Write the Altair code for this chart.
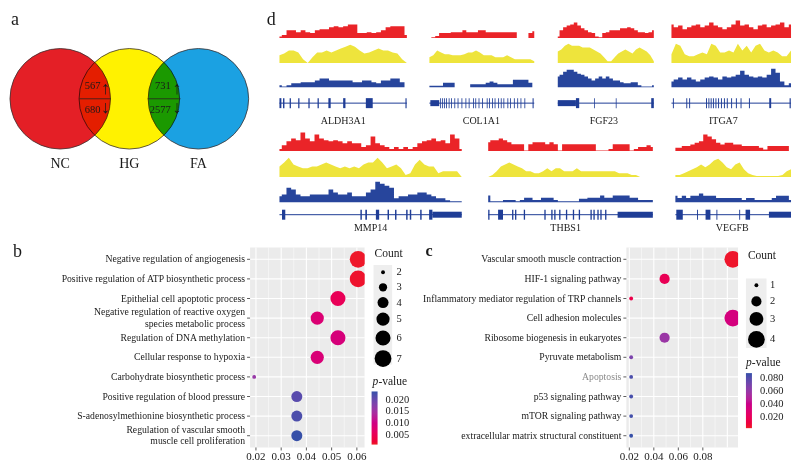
import altair as alt
import pandas as pd

W, H = 784, 453
SX, SY = W / 800.0, H / 469.0


def X(v):
    return round(v * SX, 2)


def Y(v):
    return round(v * SY, 2)


FONT = "Liberation Serif"
INK = "#1a1a1a"
TRACK_COLORS = ["#ea2428", "#eee43c", "#27459c"]
MODEL_COLOR = "#1f3d96"
PANEL_BG = "#ebebeb"
P_COLORS = ["#ee1f25", "#3550a8"]

# ------------------------------------------------------------------ data
venn_sets = ["NC", "HG", "FA"]
venn_colors = ["#e41f26", "#fff200", "#1ba1e2"]
overlap_pairs = ["NC-HG", "HG-FA"]
overlap_up = [567, 731]
overlap_down = [680, 2577]

genes = ["ALDH3A1", "COL1A1", "FGF23", "ITGA7", "MMP14", "THBS1", "VEGFB"]

aldh3a1_nc = [0.8, 1.5, 4, 4, 3, 4, 3, 2.5, 4, 4.5, 4.5, 5.5, 6, 5.5, 6, 7, 7, 2.5, 2.5, 3, 2.5, 3, 4, 5.5, 6, 6, 6, 1.5]
aldh3a1_hg = [4, 5, 6.5, 6.5, 5.5, 2, 0, 3, 5.5, 5.5, 6.5, 5.5, 6.5, 7.5, 8.5, 9.5, 8.5, 6.5, 5, 5.5, 6.5, 7.5, 6.5, 6.5, 5.5, 5, 2, 0]
aldh3a1_fa = [1, 0.4, 1, 2, 2, 2.5, 2.5, 2.5, 3.5, 4.5, 4.5, 3.5, 3.5, 3.5, 3.5, 3.5, 2.5, 2.5, 3.5, 3.5, 2.5, 2, 3.5, 3.5, 4.5, 4.5, 2.5, 0]

col1a1_nc = [0, 0.4, 1, 2.5, 2.5, 2.5, 3, 3, 3, 4, 3, 3, 3, 4, 4, 3, 3, 3, 3, 3, 3, 3, 3, 0, 0, 0, 2.5, 3.5]
col1a1_hg = [3, 4, 6.5, 5.5, 4.5, 4.5, 4, 4, 4, 4.5, 5.5, 5.5, 6.5, 5.5, 4, 4, 4, 3, 3, 3, 4, 3, 2, 2, 2, 2, 2, 1]
col1a1_fa = [0.8, 0.8, 0.8, 0.8, 2.3, 2.3, 2.3, 0, 0, 0, 0, 1.5, 1.5, 1.5, 1.5, 2.3, 3, 2.3, 1.5, 1.5, 1.5, 1.5, 3.8, 3.8, 3.8, 3.8, 2.3, 0]

fgf23_nc = [0.8, 4, 5.5, 6.5, 7, 8, 6.5, 5, 4, 3, 2.5, 0.8, 0.3, 2.5, 3, 4, 4, 4, 5, 5, 5.5, 5, 4, 3, 3, 2.5, 3, 4]
fgf23_hg = [6, 7, 9, 10, 9, 9, 9, 8, 8, 8, 7, 6, 5, 3, 1, 1, 3, 5, 6, 7, 6, 5, 7, 8, 7, 6, 4, 1]
fgf23_fa = [5.5, 6.5, 8, 9, 9, 8, 7, 6.5, 5.5, 4.5, 3.5, 4.5, 5.5, 4.5, 5.5, 4.5, 3.5, 3.5, 2.5, 2, 2, 2.5, 2.5, 1, 0.3, 0.3, 0.3, 1]

itga7_nc = [7, 5.5, 6.5, 4.5, 5.5, 6.5, 7, 5.5, 6.5, 8, 6.5, 5.5, 4.5, 5.5, 7, 9, 6.5, 7, 5.5, 4.5, 6.5, 7, 5.5, 6.5, 7, 8, 5.5, 7]
itga7_hg = [4.5, 10, 9, 4.5, 3.5, 3.5, 4.5, 5.5, 4.5, 10, 9, 5.5, 5.5, 6.5, 5.5, 10, 6.5, 9, 5.5, 9, 10, 6.5, 5.5, 6.5, 5.5, 3.5, 3.5, 6.5]
itga7_fa = [3, 4, 5, 4, 5, 4, 3, 4, 5, 5.5, 5, 4, 5.5, 5, 5.5, 6.5, 8.5, 6.5, 5.5, 5, 5.5, 5, 6.5, 9.5, 7.5, 3, 1, 2]

mmp14_nc = [1, 3, 5, 6.5, 5.5, 9.5, 6.5, 5, 8.5, 6.5, 5.5, 5, 5.5, 5, 4, 5, 4, 4, 2, 3, 7.5, 4, 3, 2, 1, 2, 1, 2, 1, 2, 4, 5, 5.5, 6.5, 5, 5.5, 4, 8.5, 6.5, 1]
mmp14_hg = [5.5, 7.5, 10, 6.5, 5.5, 4.5, 4.5, 5.5, 5.5, 6.5, 7.5, 6.5, 5.5, 4.5, 5.5, 4.5, 5.5, 4.5, 6.5, 7.5, 7.5, 10, 7.5, 4.5, 5.5, 6.5, 4.5, 1, 2, 6.5, 9, 6.5, 5.5, 5.5, 2, 3, 3, 3, 3, 0]
mmp14_fa = [3, 4, 7.5, 6.5, 4, 3, 3, 4, 4, 4, 4, 6.5, 5, 4, 4, 5, 3, 3, 3, 5, 6.5, 10.5, 9.5, 8.5, 7.5, 2, 3, 3, 4, 4, 5, 5, 4, 3, 2, 2, 1, 0.5, 0.5, 0.5]

thbs1_nc = [4.5, 5.5, 5.5, 6.5, 5.5, 4.5, 3.5, 3.5, 3.5, 0.2, 3.5, 4.5, 4.5, 4.5, 3.5, 4.5, 3.5, 0.2, 3.5, 3.5, 3.5, 3.5, 3.5, 3.5, 3.5, 3.5, 0.2, 0.2, 0.2, 1, 3.5, 3.5, 3.5, 3.5, 0.2, 1, 2, 2, 3, 2]
thbs1_hg = [0, 1, 3, 5.5, 6.5, 7.5, 6.5, 5.5, 4.5, 3, 3, 2, 2, 3, 4.5, 3, 4.5, 4.5, 3, 3, 3, 4.5, 3, 3, 3, 3, 3, 3, 3, 3, 3, 2, 2, 2, 1, 1, 0, 0, 0, 0]
thbs1_fa = [3.4, 0.5, 0.5, 0.5, 1.1, 1.1, 1.1, 0.5, 1.1, 2.3, 2.3, 1.1, 1.1, 2.3, 2.3, 2.3, 1.1, 0.5, 0.5, 0.5, 0.5, 0.5, 1.7, 1.7, 2.3, 2.3, 2.3, 3.4, 2.3, 2.3, 3.4, 3.4, 3.4, 3.4, 2.3, 2.3, 1.1, 1.1, 1.1, 1.1]

vegfb_nc = [1.7, 1.7, 2.5, 2.5, 3.4, 4.2, 5, 8.5, 7.5, 6, 4.2, 3.4, 4.2, 4.2, 3.4, 3.4, 2.5, 2.5, 2.5, 2.5, 1.7, 0.8, 2.5, 2.5, 2.5, 2.5, 2.5, 0]
vegfb_hg = [1, 1, 2, 3, 4, 5, 6.5, 5, 6.5, 8.5, 9.5, 7.5, 5, 4, 6.5, 7.5, 4, 2, 1, 0.5, 0.5, 0.5, 0.5, 0.5, 0.5, 1, 3, 4]
vegfb_fa = [3.3, 2.2, 3.3, 2.2, 3.3, 3.3, 4.5, 3.3, 3.3, 3.3, 2.2, 2.2, 2.2, 2.2, 2.2, 2.2, 1.1, 2.2, 2.2, 1.1, 1.1, 1.1, 1.1, 2.2, 3.3, 3.3, 3.3, 1.1]

# exon models: (start %, end %, kind)
aldh3a1_exons = [(0.0, 1.5, "tall"), (2.8, 3.9, "tall"), (8.0, 9.0, "tall"), (14.7, 15.7, "tall"),
                 (22.7, 23.7, "tall"), (29.9, 30.9, "tall"), (38.4, 40.2, "tall"), (50.0, 51.8, "tall"),
                 (67.8, 73.2, "tall"), (98.9, 99.8, "tall")]
col1a1_exons = [(0.9, 9.4, "med"), (10.3, 11.1, "tall"), (12.2, 13.0, "tall"), (14.1, 14.9, "tall"),
                (15.9, 16.7, "tall"), (18.4, 19.2, "tall"), (20.6, 21.4, "tall"), (23.8, 24.6, "tall"),
                (26.9, 27.7, "tall"), (30.6, 31.4, "tall"), (34.4, 35.2, "tall"), (37.5, 38.3, "tall"),
                (41.6, 42.4, "tall"), (43.8, 44.6, "tall"), (46.9, 47.7, "tall"), (50.3, 51.1, "tall"),
                (54.7, 55.5, "tall"), (56.9, 57.7, "tall"), (59.7, 60.5, "tall"), (62.2, 63.0, "tall"),
                (65.6, 66.4, "tall"), (68.1, 68.9, "tall"), (70.6, 71.4, "tall"), (74.4, 75.2, "tall"),
                (76.9, 77.7, "tall"), (80.6, 81.4, "tall"), (83.8, 84.6, "tall"), (86.9, 87.7, "tall"),
                (90.6, 91.4, "tall"), (98.4, 99.4, "tall")]
fgf23_exons = [(0.0, 18.9, "med"), (18.9, 22.3, "tall"), (37.8, 38.6, "tall"), (60.4, 61.2, "tall"),
               (97.3, 100.0, "tall")]
itga7_exons = [(1.2, 2.0, "tall"), (12.4, 13.2, "tall"), (14.8, 15.6, "tall"), (28.9, 29.7, "tall"),
               (30.9, 31.7, "tall"), (32.8, 33.6, "tall"), (34.7, 35.5, "tall"), (36.8, 37.6, "tall"),
               (39.0, 39.8, "tall"), (41.4, 42.2, "tall"), (43.9, 44.7, "tall"), (46.3, 47.1, "tall"),
               (49.9, 50.7, "tall"), (53.9, 54.7, "tall"), (57.8, 58.6, "tall"), (64.8, 65.6, "tall"),
               (81.8, 83.4, "tall"), (98.8, 99.8, "tall")]
mmp14_exons = [(1.4, 3.2, "tall"), (44.4, 45.2, "tall"), (47.1, 48.0, "tall"), (52.9, 54.7, "tall"),
               (59.3, 60.1, "tall"), (63.4, 64.2, "tall"), (69.5, 70.3, "tall"), (71.5, 72.3, "tall"),
               (77.2, 78.0, "tall"), (82.1, 83.9, "tall"), (83.9, 100.0, "med")]
thbs1_exons = [(0.0, 0.8, "tall"), (6.0, 9.0, "tall"), (14.5, 15.3, "tall"), (16.3, 17.1, "tall"),
               (21.6, 22.4, "tall"), (34.1, 34.9, "tall"), (38.3, 39.1, "tall"), (40.1, 40.9, "tall"),
               (43.1, 43.9, "tall"), (47.2, 48.0, "tall"), (51.4, 52.2, "tall"), (55.0, 55.8, "tall"),
               (62.1, 62.9, "tall"), (63.9, 64.7, "tall"), (66.3, 67.1, "tall"), (68.1, 68.9, "tall"),
               (71.0, 71.8, "tall"), (78.6, 100.0, "med")]
vegfb_exons = [(0.8, 6.4, "tall"), (18.7, 19.5, "tall"), (26.1, 30.3, "tall"), (35.5, 36.3, "tall"),
               (55.2, 56.0, "tall"), (60.7, 64.6, "tall"), (80.9, 100.0, "med")]

b_terms = ["Negative regulation of angiogenesis",
           "Positive regulation of ATP biosynthetic process",
           "Epithelial cell apoptotic process",
           "Negative regulation of reactive oxygen|species metabolic process",
           "Regulation of DNA methylation",
           "Cellular response to hypoxia",
           "Carbohydrate biosynthetic process",
           "Positive regulation of blood pressure",
           "S-adenosylmethionine biosynthetic process",
           "Regulation of vascular smooth|muscle cell proliferation"]
b_ratio = [0.0605, 0.0605, 0.0525, 0.0443, 0.0525, 0.0443, 0.0193, 0.0362, 0.0362, 0.0362]
b_count = [7, 7, 6, 5, 6, 5, 2, 4, 4, 4]
b_pval = [0.0012, 0.0014, 0.0052, 0.0082, 0.0090, 0.0085, 0.0160, 0.0210, 0.0220, 0.0234]
b_ticks = [0.02, 0.03, 0.04, 0.05, 0.06]

c_terms = ["Vascular smooth muscle contraction",
           "HIF-1 signaling pathway",
           "Inflammatory mediator regulation of TRP channels",
           "Cell adhesion molecules",
           "Ribosome biogenesis in eukaryotes",
           "Pyruvate metabolism",
           "Apoptosis",
           "p53 signaling pathway",
           "mTOR signaling pathway",
           "extracellular matrix structural constituent"]
c_ratio = [0.1045, 0.0488, 0.0215, 0.1045, 0.0488, 0.0215, 0.0215, 0.0215, 0.0215, 0.0215]
c_count = [4, 2, 1, 4, 2, 1, 1, 1, 1, 1]
c_pval = [0.004, 0.018, 0.014, 0.034, 0.058, 0.068, 0.082, 0.083, 0.084, 0.087]
c_ticks = [0.02, 0.04, 0.06, 0.08]

# ------------------------------------------------------------------ layout
VENN_CX = [53.3, 124.3, 194.3]
VENN_CY = 94
VENN_R = 51.7
VENN_SIZE = 100.5 ** 2

GENE_LAYOUT = {
    "ALDH3A1": dict(x0=277, x1=407, row=0, lx=342),
    "COL1A1": dict(x0=430, x1=537, row=0, lx=483),
    "FGF23": dict(x0=561, x1=659, row=0, lx=608),
    "ITGA7": dict(x0=677, x1=799, row=0, lx=730),
    "MMP14": dict(x0=277, x1=463, row=1, lx=370),
    "THBS1": dict(x0=490, x1=658, row=1, lx=569),
    "VEGFB": dict(x0=681, x1=799, row=1, lx=739),
}
ROWS = {0: dict(base=[31, 57, 82], model=98.5, label=117),
        1: dict(base=[148, 175, 201], model=214, label=228)}
TRACKS = {
    "ALDH3A1": (aldh3a1_nc, aldh3a1_hg, aldh3a1_fa, aldh3a1_exons),
    "COL1A1": (col1a1_nc, col1a1_hg, col1a1_fa, col1a1_exons),
    "FGF23": (fgf23_nc, fgf23_hg, fgf23_fa, fgf23_exons),
    "ITGA7": (itga7_nc, itga7_hg, itga7_fa, itga7_exons),
    "MMP14": (mmp14_nc, mmp14_hg, mmp14_fa, mmp14_exons),
    "THBS1": (thbs1_nc, thbs1_hg, thbs1_fa, thbs1_exons),
    "VEGFB": (vegfb_nc, vegfb_hg, vegfb_fa, vegfb_exons),
}
INTERP = ["step", "linear", "step"]
LABEL_SIZE = 9.7
LINE_H = 11.5


def one_row():
    return pd.DataFrame({"k": [0]})


def txt(s, x, y, size=10, align="center", baseline="middle", weight="normal",
        style="normal", color=INK, font=FONT):
    return alt.Chart(pd.DataFrame({"t": [s]})).mark_text(
        align=align, baseline=baseline, fontSize=size, fontWeight=weight,
        fontStyle=style, font=font, color=color
    ).encode(x=alt.value(X(x)), y=alt.value(Y(y)), text="t:N")


layers = []

# ------------------------------------------------------------------ panel a
venn_df = pd.DataFrame({"set": venn_sets})
venn_x = alt.Scale(type="point", domain=venn_sets,
                   range=[X(VENN_CX[0]), X(VENN_CX[2])], padding=0)
layers.append(
    alt.Chart(venn_df).mark_circle(opacity=1, stroke="#3a3030", strokeWidth=0.8,
                                   blend="multiply").encode(
        x=alt.X("set:N", scale=venn_x, axis=None),
        y=alt.value(Y(VENN_CY)),
        size=alt.value(VENN_SIZE),
        color=alt.Color("set:N", scale=alt.Scale(domain=venn_sets, range=venn_colors), legend=None),
    )
)
layers.append(
    alt.Chart(venn_df).mark_text(font=FONT, fontSize=14, color=INK).encode(
        x=alt.X("set:N", scale=venn_x, axis=None),
        y=alt.value(Y(161)),
        text="set:N",
    )
)
for a, b in [(0, 1), (1, 2)]:
    left = VENN_CX[b] - VENN_R
    right = VENN_CX[a] + VENN_R
    layers.append(
        alt.Chart(pd.DataFrame({"pair": [overlap_pairs[a]]})).mark_rule(
            color="#2a2020", strokeWidth=0.8).encode(
            x=alt.value(X(left)), x2=alt.value(X(right)), y=alt.value(Y(VENN_CY)))
    )
ov_df = pd.DataFrame({"pair": overlap_pairs * 2,
                      "dir": ["up", "up", "down", "down"],
                      "n": overlap_up + overlap_down})
layers.append(
    alt.Chart(ov_df).mark_text(align="right", baseline="middle", font=FONT,
                               fontSize=10.5, color=INK).encode(
        x=alt.X("pair:N", axis=None,
                scale=alt.Scale(type="point", domain=overlap_pairs, range=[X(94.5), X(166)], padding=0)),
        y=alt.Y("dir:N", axis=None,
                scale=alt.Scale(type="point", domain=["up", "down"], range=[Y(81), Y(106)], padding=0)),
        text=alt.Text("n:Q", format="d"),
    )
)
layers.append(
    alt.Chart(ov_df).transform_calculate(
        arrow="datum.dir == 'up' ? '\u2191' : '\u2193'"
    ).mark_text(baseline="middle", font=FONT, fontSize=18, color=INK).encode(
        x=alt.X("pair:N", axis=None,
                scale=alt.Scale(type="point", domain=overlap_pairs, range=[X(99.5), X(172.5)], padding=0)),
        y=alt.Y("dir:N", axis=None,
                scale=alt.Scale(type="point", domain=["up", "down"], range=[Y(84), Y(103.5)], padding=0)),
        text="arrow:N",
    )
)

# ------------------------------------------------------------------ panel d
for g in genes:
    lay = GENE_LAYOUT[g]
    row = ROWS[lay["row"]]
    nc, hg, fa, exons = TRACKS[g]
    for vals, color, base, interp in zip((nc, hg, fa), TRACK_COLORS, row["base"], INTERP):
        n = len(vals)
        df = pd.DataFrame({"bin": list(range(n)), "cov": vals})
        layers.append(
            alt.Chart(df).mark_area(color=color, interpolate=interp, opacity=1).encode(
                x=alt.X("bin:Q", axis=None,
                        scale=alt.Scale(domain=[0, n - 1], range=[X(lay["x0"]), X(lay["x1"])],
                                        nice=False, zero=False)),
                y=alt.Y("cov:Q", axis=None,
                        scale=alt.Scale(domain=[0, 11], range=[Y(base), Y(base - 22)],
                                        nice=False, zero=False)),
            )
        )
    xs = alt.Scale(domain=[0, 100], range=[X(lay["x0"]), X(lay["x1"])], nice=False, zero=False)
    yc = Y(row["model"])
    ex_df = pd.DataFrame(exons, columns=["start", "end", "kind"])
    parts = [
        alt.Chart(pd.DataFrame({"s": [0], "e": [100]})).mark_rule(
            color=MODEL_COLOR, strokeWidth=1).encode(
            x=alt.X("s:Q", scale=xs, axis=None), x2="e:Q", y=alt.value(yc))
    ]
    for kind, half in (("tall", 5), ("med", 3)):
        sub = ex_df[ex_df["kind"] == kind].reset_index(drop=True)
        if len(sub):
            parts.append(
                alt.Chart(sub).mark_rect(color=MODEL_COLOR).encode(
                    x=alt.X("start:Q", scale=xs, axis=None), x2="end:Q",
                    y=alt.value(yc - half), y2=alt.value(yc + half))
            )
    layers.append(alt.layer(*parts))
    layers.append(txt(g, lay["lx"], row["label"], size=10))


# ------------------------------------------------------------------ panels b, c
def dot_panel(terms, ratio, count, pval, box, xdom, ticks, majors, minors,
              size_dom, p_dom, size_leg, color_leg):
    x0, x1, y0, y1 = box
    xs = alt.Scale(domain=xdom, range=[X(x0), X(x1)], nice=False, zero=False)
    ys = alt.Scale(type="point", domain=terms, range=[Y(y0), Y(y1)], padding=0.6)
    out = []
    out.append(alt.Chart(one_row()).mark_rect(color=PANEL_BG).encode(
        x=alt.value(X(x0)), x2=alt.value(X(x1)), y=alt.value(Y(y0)), y2=alt.value(Y(y1))))
    out.append(alt.Chart(pd.DataFrame({"g": majors})).mark_rule(color="white", strokeWidth=1.1).encode(
        x=alt.X("g:Q", scale=xs, axis=None), y=alt.value(Y(y0)), y2=alt.value(Y(y1))))
    out.append(alt.Chart(pd.DataFrame({"g": minors})).mark_rule(color="white", strokeWidth=0.5).encode(
        x=alt.X("g:Q", scale=xs, axis=None), y=alt.value(Y(y0)), y2=alt.value(Y(y1))))
    term_df = pd.DataFrame({"term": terms})
    out.append(alt.Chart(term_df).mark_rule(color="white", strokeWidth=1.1).encode(
        y=alt.Y("term:N", scale=ys, axis=None), x=alt.value(X(x0)), x2=alt.value(X(x1))))
    df = pd.DataFrame({"term": terms, "ratio": ratio, "count": count, "pval": pval})
    out.append(alt.Chart(df).mark_circle(opacity=1).encode(
        x=alt.X("ratio:Q", scale=xs, axis=None),
        y=alt.Y("term:N", scale=ys, axis=None),
        size=alt.Size("count:Q", scale=alt.Scale(domain=size_dom, range=[15, 280]), legend=size_leg),
        color=alt.Color("pval:Q", scale=alt.Scale(domain=p_dom, range=P_COLORS, interpolate="hcl"),
                        legend=color_leg),
    ))
    # mask circles that run past the panel's right edge (panel clipping)
    out.append(alt.Chart(one_row()).mark_rect(color="white").encode(
        x=alt.value(X(x1)), x2=alt.value(X(x1) + 7), y=alt.value(Y(y0)), y2=alt.value(Y(y1))))
    # category labels and ticks, placed through the category scale
    out.append(alt.Chart(term_df).mark_rule(color="#333333", strokeWidth=0.8).encode(
        y=alt.Y("term:N", scale=ys, axis=None), x=alt.value(X(x0) - 3), x2=alt.value(X(x0))))
    for test, dy in (("indexof(datum.term, '|') < 0", 0), ("indexof(datum.term, '|') >= 0", -LINE_H / 2)):
        out.append(alt.Chart(term_df).transform_filter(test).mark_text(
            align="right", baseline="middle", lineBreak="|", lineHeight=LINE_H, font=FONT,
            fontSize=LABEL_SIZE, dy=dy
        ).encode(
            y=alt.Y("term:N", scale=ys, axis=None),
            x=alt.value(X(x0) - 5),
            text="term:N",
            color=alt.condition("datum.term == 'Apoptosis'", alt.value("#8a8a8a"), alt.value(INK)),
        ))
    # x tick marks and labels, placed through the ratio scale
    tick_df = pd.DataFrame({"g": ticks})
    out.append(alt.Chart(tick_df).mark_rule(color="#333333", strokeWidth=0.8).encode(
        x=alt.X("g:Q", scale=xs, axis=None), y=alt.value(Y(y1)), y2=alt.value(Y(y1) + 3)))
    out.append(alt.Chart(tick_df).mark_text(
        align="center", baseline="middle", font=FONT, fontSize=11, color=INK
    ).encode(
        x=alt.X("g:Q", scale=xs, axis=None), y=alt.value(Y(465)),
        text=alt.Text("g:Q", format=".2f"),
    ))
    return out


def size_legend(x, y, values, title_pad, row_pad):
    return alt.Legend(orient="none", legendX=X(x), legendY=Y(y), title="Count", titleFont=FONT,
                      titleFontSize=11.5, titleFontWeight="normal", titleColor=INK,
                      titlePadding=title_pad, labelFont=FONT, labelFontSize=10.5, labelColor=INK,
                      labelOffset=5, symbolType="circle", symbolFillColor="black",
                      symbolStrokeColor="black", symbolStrokeWidth=0, symbolOpacity=1,
                      rowPadding=row_pad, values=values, format="d")


def color_legend(x, y, y_end, values):
    return alt.Legend(orient="none", direction="vertical", legendX=X(x), legendY=Y(y), title=None,
                      gradientLength=Y(y_end) - Y(y), gradientThickness=6, gradientStrokeWidth=0,
                      values=values, format=".3f", labelFont=FONT, labelFontSize=10.5,
                      labelColor=INK, labelOffset=8)


# legend key backgrounds
layers.append(alt.Chart(one_row()).mark_rect(color="#eeeeee").encode(
    x=alt.value(X(373)), x2=alt.value(X(392)), y=alt.value(Y(266)), y2=alt.value(Y(369))))
layers.append(alt.Chart(one_row()).mark_rect(color="#eeeeee").encode(
    x=alt.value(X(753)), x2=alt.value(X(774)), y=alt.value(Y(280)), y2=alt.value(Y(352))))

layers += dot_panel(
    b_terms, b_ratio, b_count, b_pval, box=(247, 364, 248, 455),
    xdom=[0.01767, 0.06311], ticks=b_ticks,
    majors=[0.02, 0.03, 0.04, 0.05, 0.06], minors=[0.025, 0.035, 0.045, 0.055],
    size_dom=[2, 7], p_dom=[0.0008, 0.0235],
    size_leg=size_legend(374, 248, [2, 3, 4, 5, 6, 7], 8, 4),
    color_leg=color_legend(371, 397, 452, [0.005, 0.010, 0.015, 0.020]),
)
layers += dot_panel(
    c_terms, c_ratio, c_count, c_pval, box=(631, 745, 248, 455),
    xdom=[0.0176, 0.1088], ticks=c_ticks,
    majors=[0.02, 0.04, 0.06, 0.08, 0.10], minors=[0.03, 0.05, 0.07, 0.09],
    size_dom=[1, 4], p_dom=[0.002, 0.0875],
    size_leg=size_legend(755, 251, [1, 2, 3, 4], 18, 5),
    color_leg=color_legend(753, 378, 435, [0.020, 0.040, 0.060, 0.080]),
)

# legend titles with italic p
layers.append(txt("p", 372, 387, size=11.5, align="left", style="italic"))
layers.append(txt("-value", 378, 387, size=11.5, align="left"))
layers.append(txt("p", 753, 368, size=11.5, align="left", style="italic"))
layers.append(txt("-value", 759, 368, size=11.5, align="left"))

# panel letters
layers.append(txt("a", 3, 3, size=18, align="left", baseline="top"))
layers.append(txt("d", 264, 3, size=18, align="left", baseline="top"))
layers.append(txt("b", 5, 258, size=18, align="left", baseline="alphabetic"))
layers.append(txt("c", 426, 257, size=16, align="left", baseline="alphabetic", weight="bold"))

chart = alt.layer(*layers).resolve_scale(
    x="independent", y="independent", color="independent", size="independent"
).properties(
    width=W, height=H, padding=0, autosize=alt.AutoSizeParams(type="none")
).configure_view(stroke=None)

chart.save("out.html", embed_options={"renderer": "svg", "actions": False})
